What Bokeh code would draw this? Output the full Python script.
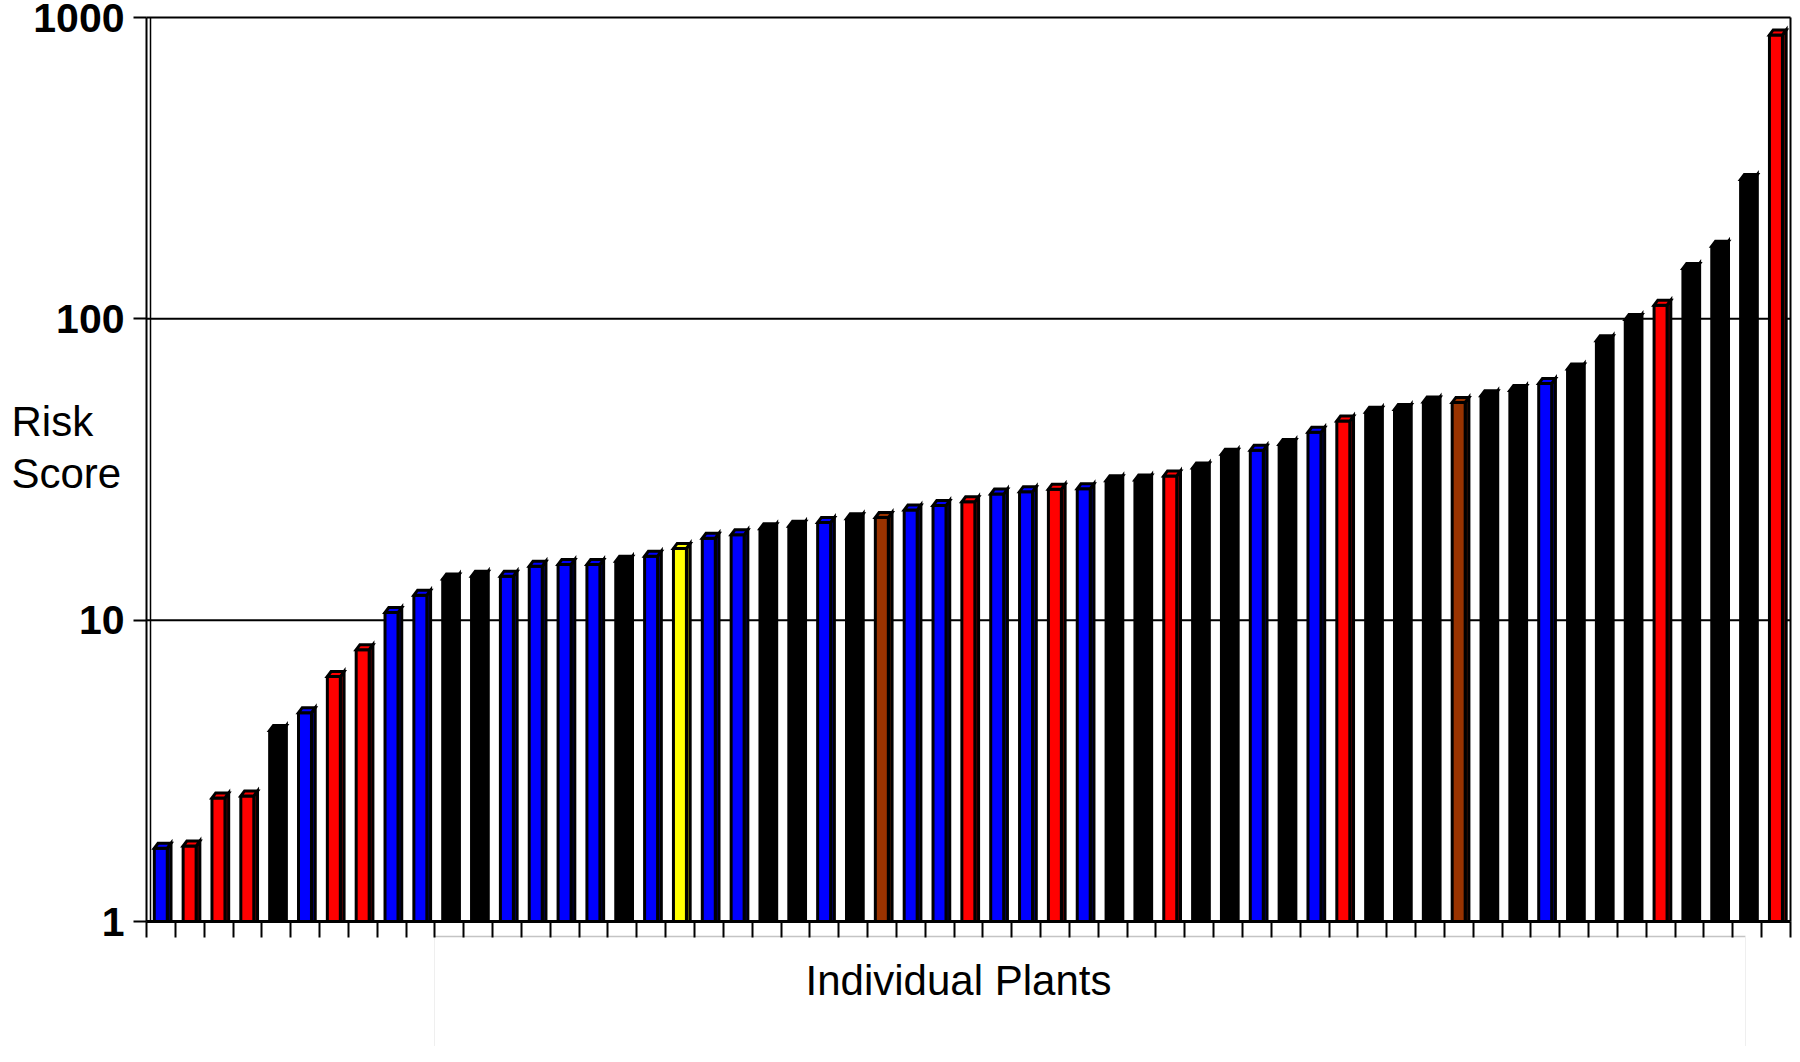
from bokeh.plotting import figure
from bokeh.models import Range1d, FixedTicker
from bokeh.core.properties import value
from bokeh.embed import file_html
from bokeh.resources import INLINE

# ---- data ----
plants = list(range(1, 58))
risk_scores = [1.75, 1.78, 2.57, 2.61, 4.3, 4.93, 6.5, 7.98, 10.6, 12.1,
               13.7, 14.0, 14.0, 15.1, 15.3, 15.3, 15.7, 16.3, 17.3, 18.7,
               19.2, 20.1, 20.5, 21.1, 21.7, 21.9, 23.2, 24.0, 24.7, 26.2,
               26.7, 27.2, 27.3, 29.0, 29.2, 30.1, 32.0, 35.5, 36.6, 38.3,
               42.0, 45.8, 49.0, 50.0, 53.0, 52.8, 55.6, 57.8, 61.0, 68.2,
               84.5, 99.5, 111.0, 147.0, 174.0, 290.0, 875.0]
groups = ["blue", "red", "red", "red", "black", "blue", "red", "red", "blue", "blue",
          "black", "black", "blue", "blue", "blue", "blue", "black", "blue", "yellow", "blue",
          "blue", "black", "black", "blue", "black", "brown", "blue", "blue", "red", "blue",
          "blue", "red", "blue", "black", "black", "red", "black", "black", "blue", "black",
          "blue", "red", "black", "black", "black", "brown", "black", "black", "blue", "black",
          "black", "black", "red", "black", "black", "black", "red"]
y_ticks = [1, 10, 100, 1000]
y_tick_labels = ["1", "10", "100", "1000"]
grid_values = [10, 100]
y_title = ["Risk", "Score"]
x_title = "Individual Plants"

FACE = {"blue": "#0000FF", "red": "#FF0000", "black": "#000000",
        "yellow": "#FFFF00", "brown": "#993300"}
SIDE = {"blue": "#000080", "red": "#800000", "black": "#000000",
        "yellow": "#808000", "brown": "#4D1A00"}

n = len(risk_scores)
y_lo, y_hi = y_ticks[0], y_ticks[-1]

# ---- layout: the frame covers the whole canvas; the plot box sits inside it ----
W, H = 1796, 1046
L, R, T, B = 146, 1790, 17, 921           # plot box edges in canvas pixels
ppu = (R - L) / n                          # pixels per category
dec = (B - T) / 3.0                        # pixels per decade

def xd(px):
    return (px - L) / ppu

def yd(py):
    return 10 ** ((B - py) / dec)

p = figure(width=W, height=H, x_range=Range1d(xd(0), xd(W)),
           y_range=Range1d(yd(H), yd(0)), y_axis_type="log",
           output_backend="svg", toolbar_location=None,
           min_border=0, min_border_left=0, min_border_right=0,
           min_border_top=0, min_border_bottom=0)
p.background_fill_color = "white"
p.border_fill_color = "white"
p.outline_line_color = None
p.xgrid.visible = False
p.ygrid.visible = False

# faint title box below the axis
p.segment(x0=[xd(434)], y0=[yd(936)], x1=[xd(1745)], y1=[yd(936)],
          line_color="#c4c4c4", line_width=1.5)
p.segment(x0=[xd(434), xd(1745)], y0=[yd(936), yd(936)],
          x1=[xd(434), xd(1745)], y1=[yd(H), yd(H)],
          line_color="#efefef", line_width=1)

# grid lines and plot box
p.segment(x0=[0] * len(grid_values), y0=grid_values, x1=[n] * len(grid_values),
          y1=grid_values, line_color="black", line_width=2)
p.segment(x0=[0, n], y0=[y_hi, y_lo], x1=[n, n], y1=[y_hi, y_hi],
          line_color="black", line_width=2)
# left wall inner line
p.segment(x0=[xd(L + 4)], y0=[y_lo], x1=[xd(L + 4)], y1=[y_hi],
          line_color="black", line_width=1.5)

# bars with a 3D look
off, fw, dep = 0.27, 0.45, 0.13
k = 10 ** (5.0 / dec)

fl = [i + off for i in range(n)]
fr = [x + fw for x in fl]
sr = [x + dep for x in fr]

side_xs, side_ys, top_xs, top_ys = [], [], [], []
for a, b, c, v in zip(fl, fr, sr, risk_scores):
    side_xs.append([b, c, c, b])
    side_ys.append([y_lo, y_lo, v * k, v])
    top_xs.append([a, b, c, a + dep])
    top_ys.append([v, v, v * k, v * k])

p.patches(side_xs, side_ys, fill_color=[SIDE[g] for g in groups],
          line_color="black", line_width=3, line_join="miter")
p.quad(left=fl, right=fr, bottom=[y_lo] * n, top=risk_scores,
       fill_color=[FACE[g] for g in groups], line_color="black", line_width=3)
p.patches(top_xs, top_ys, fill_color=[FACE[g] for g in groups],
          line_color="black", line_width=3, line_join="miter")

# y axis drawn at x = 0
ya = p.yaxis[0]
ya.fixed_location = 0
ya.bounds = (y_lo, y_hi)
ya.ticker = FixedTicker(ticks=y_ticks)
ya.major_label_overrides = {float(t): s for t, s in zip(y_ticks, y_tick_labels)}
ya.major_label_text_font = "Liberation Sans"
ya.major_label_text_font_style = "bold"
ya.major_label_text_font_size = "41px"
ya.major_label_text_color = "black"
ya.major_label_standoff = 9
ya.major_tick_out = 13
ya.major_tick_in = 0
ya.minor_tick_out = 0
ya.minor_tick_in = 0
ya.major_tick_line_width = 2
ya.major_tick_line_color = "black"
ya.axis_line_width = 2
ya.axis_line_color = "black"

# x axis drawn at y = 1
xa = p.xaxis[0]
xa.fixed_location = y_lo
xa.bounds = (0, n)
xa.ticker = FixedTicker(ticks=list(range(n + 1)))
xa.major_label_overrides = {i: "" for i in range(n + 1)}
xa.major_label_standoff = 0
xa.major_tick_out = 16
xa.major_tick_in = 0
xa.minor_tick_out = 0
xa.minor_tick_in = 0
xa.major_tick_line_width = 2
xa.major_tick_line_color = "black"
xa.axis_line_width = 3
xa.axis_line_color = "black"

# titles
p.text(x=[xd(11), xd(11)], y=[yd(421), yd(473)], text=y_title,
       text_font=value("Liberation Sans"), text_font_size=value("42px"),
       text_color="black", text_baseline="alphabetic", text_align="left")
p.text(x=[xd(958)], y=[yd(980)], text=[x_title],
       text_font=value("Liberation Sans"), text_font_size=value("42px"),
       text_color="black", text_baseline="alphabetic", text_align="center")

open("out.html", "w").write(file_html(p, INLINE))
